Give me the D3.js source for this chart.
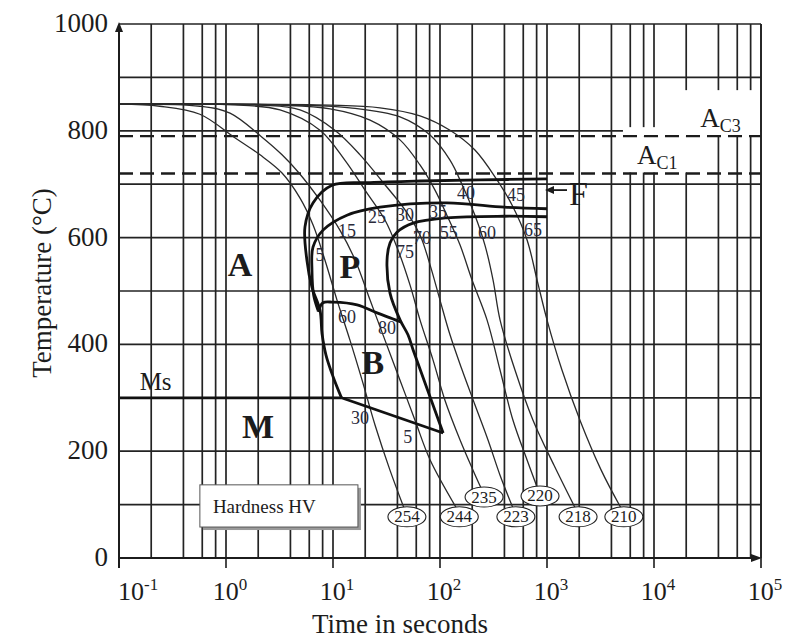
<!DOCTYPE html>
<html>
<head>
<meta charset="utf-8">
<script src="https://cdn.jsdelivr.net/npm/d3@7"></script>
<style>
  body { margin: 0; background: #fff; }
  svg { display: block; }
</style>
</head>
<body>
<div id="chart"></div>
<script>
// ---- data (time in s, temperature in °C) ----
let tempTicks = [0, 200, 400, 600, 800, 1000]
let timeExponents = [-1, 0, 1, 2, 3, 4, 5]
let gridMultipliers = [1, 2, 4, 6, 8]
let gridTemps = [100, 200, 300, 400, 500, 600, 700, 800, 900, 1000]
let ac3 = 790
let ac1 = 720
let msTemp = 300

// cooling curves, each ends at its hardness value
let cool254 = [[0.1,850],[0.24,846],[0.57,831],[1.19,788],[2.08,755],[3.34,721],[4.92,674],[6.5,624],[8.4,558],[10.9,483],[14.4,408],[18.7,333],[24.7,249],[34,165],[46,94]]
let cool244 = [[0.1,850],[0.57,846],[1.09,833],[2.17,788],[3.34,755],[4.81,721],[7.56,670],[11.6,614],[16.1,558],[22.2,483],[30.6,408],[42.3,333],[58.4,258],[80.7,184],[142,94]]
let cool235 = [[0.1,850],[1.35,848],[3.2,839],[7.56,801],[12.9,745],[19.9,689],[30.6,633],[40.5,577],[52.5,511],[65,446],[86,371],[111,296],[154,221],[203,165],[242,131]]
let cool223 = [[0.1,850],[2.08,848],[4.92,839],[10.4,801],[17.9,755],[30.6,699],[47.1,652],[65,605],[80.7,549],[100,483],[124,418],[161,352],[212,287],[281,221],[364,155],[480,94]]
let cool220 = [[0.1,850],[3.2,848],[9.4,841],[22.2,820],[42.3,783],[65,736],[89.8,689],[116,642],[154,586],[199,521],[275,446],[364,352],[481,258],[650,184],[807,133]]
let cool218 = [[0.1,850],[4.92,848],[14.4,843],[42.3,826],[80.7,792],[124,745],[161,699],[212,642],[263,586],[313,521],[364,446],[502,352],[740,258],[1160,174],[1830,94]]
let cool210 = [[0.1,850],[9.4,848],[27.5,843],[65,828],[124,801],[212,764],[341,708],[471,661],[650,596],[807,521],[1000,446],[1380,352],[2033,258],[3200,165],[4900,94]]
let hardness = [254, 244, 235, 223, 220, 218, 210]

// transformation lines
let ferriteStart = [[1000,710],[237,708],[65,706],[22.2,703],[9.8,698],[6.5,665],[5.47,620],[5.7,558],[6.36,507],[7.56,464],[7.9,420],[8.6,380],[10,340],[12,300]]
let ferriteEnd = [[1000,654],[400,657],[116,665],[27.5,657],[13.5,642],[8.07,614],[6.5,582],[6.36,539],[6.6,492],[7.24,464]]
let pearliteEnd = [[1000,639],[400,640],[116,637],[56,627],[39.6,610],[34.1,590],[32,558],[34.1,496],[42.3,446],[50.2,418],[56,390],[107,234]]
let bainiteStart = [[7.24,461],[8.07,478],[10,479],[16.8,474],[25.8,459],[36,448],[43,442]]
let msDrop = [[12,300],[107,234]]
let msLine = [[0.1,300],[12,300]]

// percent labels along the curves
let ferriteLabels = ['5', '15', '25', '30', '35', '40', '45']
let pearliteLabels = ['75', '70', '55', '60', '65']
let bainiteLabels = ['60', '80']
let martensiteLabels = ['30', '5']

let width = 799
let height = 642

let svg = d3.select('#chart').append('svg')
  .attr('width', width)
  .attr('height', height)
  .style('font-family', '"Liberation Serif", "Times New Roman", serif')

let x = d3.scaleLog().domain([0.1, 1e5]).range([119, 761])
let y = d3.scaleLinear().domain([0, 1000]).range([558, 24])

let line = d3.line()
  .x(d => x(d[0]))
  .y(d => y(d[1]))
  .curve(d3.curveCatmullRom.alpha(0.5))

let ink = '#1c1c1c'
let gridInk = '#232323'

// grid
let gridTimes = []
timeExponents.forEach(e => {
  gridMultipliers.forEach(m => {
    let v = m * Math.pow(10, e)
    if (v > 0.1 && v <= 1e5) gridTimes.push(v)
  })
})

svg.append('g')
  .selectAll('line')
  .data(gridTimes)
  .enter().append('line')
  .attr('x1', d => x(d)).attr('x2', d => x(d))
  .attr('y1', y(0)).attr('y2', y(1000))
  .attr('stroke', gridInk)
  .attr('stroke-width', 1.7)

svg.append('g')
  .selectAll('line')
  .data(gridTemps)
  .enter().append('line')
  .attr('x1', x(0.1)).attr('x2', x(1e5))
  .attr('y1', d => y(d)).attr('y2', d => y(d))
  .attr('stroke', gridInk)
  .attr('stroke-width', 1.7)

// white patches behind the A_C labels
let ac3x = x(27000)
let ac1x = x(6930)
svg.append('rect')
  .attr('x', ac3x - 24).attr('y', y(ac3) - 46)
  .attr('width', x(1e5) - 1 - (ac3x - 24)).attr('height', 46)
  .attr('fill', '#fff')
svg.append('rect')
  .attr('x', ac1x - 14).attr('y', y(ac3) - 9)
  .attr('width', x(1e5) - 1 - (ac1x - 14)).attr('height', 9)
  .attr('fill', '#fff')
svg.append('rect')
  .attr('x', ac1x - 14).attr('y', y(ac3))
  .attr('width', 77).attr('height', y(ac1) - y(ac3) - 1)
  .attr('fill', '#fff')

// Ac3 / Ac1 dashed lines
svg.selectAll('.ac-line')
  .data([ac3, ac1])
  .enter().append('line')
  .attr('x1', x(0.1)).attr('x2', x(1e5))
  .attr('y1', d => y(d)).attr('y2', d => y(d))
  .attr('stroke', ink)
  .attr('stroke-width', 2.4)
  .attr('stroke-dasharray', '14,7')

// cooling curves
let cooling = [cool254, cool244, cool235, cool223, cool220, cool218, cool210]

svg.append('g')
  .selectAll('path')
  .data(cooling)
  .enter().append('path')
  .attr('d', line)
  .attr('fill', 'none')
  .attr('stroke', '#2a2a2a')
  .attr('stroke-width', 1.3)

// transformation boundaries
svg.append('g')
  .selectAll('path')
  .data([ferriteStart, ferriteEnd, pearliteEnd, bainiteStart, msDrop])
  .enter().append('path')
  .attr('d', line)
  .attr('fill', 'none')
  .attr('stroke', '#111')
  .attr('stroke-width', 2.8)
  .attr('stroke-linejoin', 'round')

svg.append('path')
  .datum(msLine)
  .attr('d', d3.line().x(d => x(d[0])).y(d => y(d[1])))
  .attr('fill', 'none')
  .attr('stroke', '#111')
  .attr('stroke-width', 2.8)

// hardness box
let boxX = x(0.57), boxY = y(137), boxW = x(17.1) - x(0.57), boxH = y(58) - y(137)
svg.append('rect')
  .attr('x', boxX + 3).attr('y', boxY + 3)
  .attr('width', boxW).attr('height', boxH)
  .attr('fill', '#9a9a9a')
svg.append('rect')
  .attr('x', boxX).attr('y', boxY)
  .attr('width', boxW).attr('height', boxH)
  .attr('fill', '#fff')
  .attr('stroke', '#555')
  .attr('stroke-width', 1)
svg.append('text')
  .attr('x', boxX + 13).attr('y', boxY + boxH / 2 + 1)
  .attr('dominant-baseline', 'central')
  .attr('font-size', 19)
  .attr('fill', ink)
  .text('Hardness HV')

// hardness ellipses at the end of each cooling curve
let hv = svg.append('g')
  .selectAll('g')
  .data(cooling)
  .enter().append('g')
  .attr('transform', d => {
    let last = d[d.length - 1]
    return `translate(${x(last[0]) + 3},${y(last[1]) + 9})`
  })
hv.append('ellipse')
  .attr('rx', 19).attr('ry', 10)
  .attr('fill', '#fff')
  .attr('stroke', '#222')
  .attr('stroke-width', 1.1)
hv.append('text')
  .attr('text-anchor', 'middle')
  .attr('dominant-baseline', 'central')
  .attr('font-size', 17)
  .attr('fill', ink)
  .text((d, i) => hardness[i])

// percent labels
let smallNotes = [
  [ferriteLabels[0], 7.56, 567], [ferriteLabels[1], 13.5, 612], [ferriteLabels[2], 25.8, 639],
  [ferriteLabels[3], 47.1, 642], [ferriteLabels[4], 95.8, 648], [ferriteLabels[5], 175, 684],
  [ferriteLabels[6], 513, 680],
  [pearliteLabels[0], 47.1, 573], [pearliteLabels[1], 67.9, 599], [pearliteLabels[2], 121, 609],
  [pearliteLabels[3], 275, 609], [pearliteLabels[4], 740, 614],
  [bainiteLabels[0], 13.5, 451], [bainiteLabels[1], 32, 431],
  [martensiteLabels[0], 17.9, 262], [martensiteLabels[1], 50, 227]
]
svg.append('g')
  .selectAll('text')
  .data(smallNotes)
  .enter().append('text')
  .attr('x', d => x(d[1]))
  .attr('y', d => y(d[2]))
  .attr('text-anchor', 'middle')
  .attr('dominant-baseline', 'central')
  .attr('font-size', 18)
  .attr('fill', '#2a2a3a')
  .text(d => d[0])

// phase letters
let phaseNotes = [['A', 1.35, 549], ['P', 14.4, 545], ['B', 23.6, 367], ['M', 1.99, 247]]
svg.append('g')
  .selectAll('text')
  .data(phaseNotes)
  .enter().append('text')
  .attr('x', d => x(d[1]))
  .attr('y', d => y(d[2]))
  .attr('text-anchor', 'middle')
  .attr('dominant-baseline', 'central')
  .attr('font-size', 34)
  .attr('font-weight', 'bold')
  .attr('fill', ink)
  .text(d => d[0])

svg.append('text')
  .attr('x', x(0.22)).attr('y', y(msTemp) - 8)
  .attr('text-anchor', 'middle')
  .attr('font-size', 25)
  .attr('fill', ink)
  .text('Ms')

// A_C3 and A_C1 labels
function acLabel(px, py, sub) {
  let t = svg.append('text')
    .attr('x', px).attr('y', py)
    .attr('font-size', 27)
    .attr('fill', ink)
  t.append('tspan').text('A')
  t.append('tspan').attr('font-size', 18).attr('dy', 5).text(sub)
}
acLabel(ac3x, y(ac3) - 9, 'C3')
acLabel(ac1x, y(ac1) - 10, 'C1')

// F arrow
let fy = y(689)
svg.append('line')
  .attr('x1', x(1000) + 20).attr('x2', x(1000) + 4)
  .attr('y1', fy).attr('y2', fy)
  .attr('stroke', ink).attr('stroke-width', 1.8)
svg.append('path')
  .attr('d', `M${x(1000) - 2},${fy} l9,-4 l0,8 z`)
  .attr('fill', ink)
svg.append('text')
  .attr('x', x(1000) + 22).attr('y', fy + 15)
  .attr('font-size', 34)
  .attr('fill', ink)
  .text('F')

// axes
svg.append('line')
  .attr('x1', x(0.1)).attr('x2', x(0.1))
  .attr('y1', y(0) + 10).attr('y2', y(1000) + 4)
  .attr('stroke', ink).attr('stroke-width', 2)
svg.append('path')
  .attr('d', `M${x(0.1)},${y(1000) - 2} l-4,10 l8,0 z`)
  .attr('fill', ink)
svg.append('line')
  .attr('x1', x(0.1)).attr('x2', x(1e5) - 4)
  .attr('y1', y(0)).attr('y2', y(0))
  .attr('stroke', ink).attr('stroke-width', 2)
svg.append('path')
  .attr('d', `M${x(1e5) + 1},${y(0)} l-11,-4 l0,8 z`)
  .attr('fill', ink)
svg.append('line')
  .attr('x1', x(1e5)).attr('x2', x(1e5))
  .attr('y1', y(1000)).attr('y2', y(0) + 10)
  .attr('stroke', gridInk).attr('stroke-width', 1.7)

svg.append('g')
  .selectAll('line')
  .data(timeExponents.slice(1, -1))
  .enter().append('line')
  .attr('x1', d => x(Math.pow(10, d))).attr('x2', d => x(Math.pow(10, d)))
  .attr('y1', y(0)).attr('y2', y(0) + 10)
  .attr('stroke', ink).attr('stroke-width', 1.6)

// tick labels
svg.append('g')
  .selectAll('text')
  .data(tempTicks)
  .enter().append('text')
  .attr('x', 108)
  .attr('y', d => y(d) - 1)
  .attr('text-anchor', 'end')
  .attr('dominant-baseline', 'central')
  .attr('font-size', 27)
  .attr('fill', ink)
  .text(d => d)

let xLabels = svg.append('g')
  .selectAll('text')
  .data(timeExponents)
  .enter().append('text')
  .attr('x', (d, i) => i === 0 ? x(Math.pow(10, d)) - 1 : x(Math.pow(10, d)) + 4)
  .attr('y', y(0) + 42)
  .attr('text-anchor', (d, i) => i === 0 ? 'start' : 'middle')
  .attr('font-size', 26)
  .attr('fill', ink)
xLabels.append('tspan').text('10')
xLabels.append('tspan')
  .attr('font-size', 17)
  .attr('dy', -10)
  .text(d => d)

// axis titles
svg.append('text')
  .attr('x', 400).attr('y', 633)
  .attr('text-anchor', 'middle')
  .attr('font-size', 27)
  .attr('fill', ink)
  .text('Time in seconds')

svg.append('text')
  .attr('transform', 'translate(42,283) rotate(-90)')
  .attr('text-anchor', 'middle')
  .attr('dominant-baseline', 'central')
  .attr('font-size', 27)
  .attr('fill', ink)
  .text('Temperature (°C)')
</script>
</body>
</html>
